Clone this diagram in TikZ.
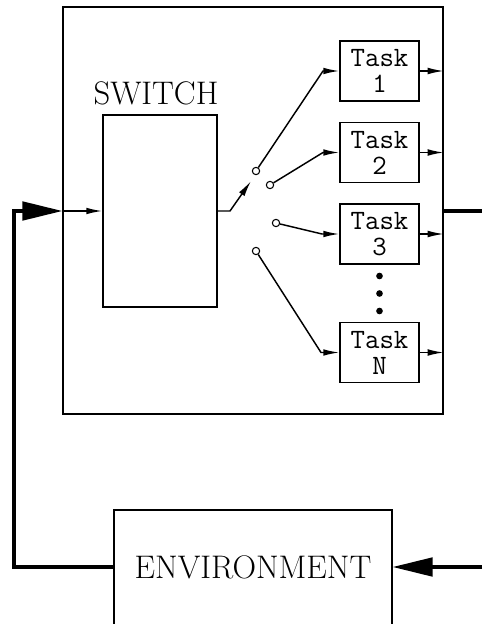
\documentclass[tikz,border=0pt]{standalone}
\usetikzlibrary{arrows.meta}
\begin{document}
\begin{tikzpicture}[x=0.75pt,y=-0.75pt,
  boxline/.style={line width=1.1pt},
  wire/.style={line width=1.1pt},
  thickwire/.style={line width=2.3pt},
  smallarrow/.style={-{Latex[length=12pt,width=5pt]}},
  bigarrow/.style={-{Triangle[length=30pt,width=14pt]}},
  taskbox/.style={draw,boxline,minimum width=59.25pt,minimum height=45pt,inner sep=0pt,
    align=center,font=\ttfamily\fontsize{21}{19.5}\selectfont},
  contact/.style={circle,draw,line width=0.8pt,fill=white,inner sep=0pt,minimum size=5.5pt},
  dotmark/.style={circle,fill=black,inner sep=0pt,minimum size=5pt},
  bigtext/.style={font=\fontsize{24.5}{28}\selectfont}]
\useasboundingbox (0,0) rectangle (482,624);
% outer box
\node[draw,boxline,minimum width=285pt,minimum height=305.25pt,inner sep=0pt] (outer) at (253,210.5) {};
% switch
\node[draw,boxline,minimum width=85.5pt,minimum height=144pt,inner sep=0pt] (switch) at (160,211) {};
\node[bigtext,inner sep=0pt] (swlabel) at (156,93) {SWITCH};
% tasks
\node[taskbox] (t1) at (379.5,71) {Task\\1};
\node[taskbox] (t2) at (379.5,152.5) {Task\\2};
\node[taskbox] (t3) at (379.5,234) {Task\\3};
\node[taskbox] (tN) at (379.5,352.5) {Task\\N};
% dots
\node[dotmark] (d1) at (379.5,276) {};
\node[dotmark] (d2) at (379.5,293.5) {};
\node[dotmark] (d3) at (379.5,311) {};
% environment
\node[draw,boxline,minimum width=208.5pt,minimum height=90pt,inner sep=0pt,text depth=4.5pt,bigtext] (env) at (253,570) {ENVIRONMENT};
% coordinates
\coordinate (inL) at (14,211);
\coordinate (outR) at (482,211);
\coordinate (fbR) at (482,567);
\coordinate (swbend) at (230,211);
\coordinate (swtip) at (251,181);
\coordinate (b1) at (323,71);
\coordinate (b2) at (323,152.5);
\coordinate (b3) at (322,234);
\coordinate (bN) at (321,352.5);
% switch output
\draw[wire,smallarrow] (switch.east) -- (swbend) -- (swtip);
% contacts and connectors
\node[contact] (c1) at (256,171) {};
\node[contact] (c2) at (270,185) {};
\node[contact] (c3) at (276,223) {};
\node[contact] (cN) at (256,251) {};
\draw[wire,smallarrow] (c1) -- (b1) -- (t1.west);
\draw[wire,smallarrow] (c2) -- (b2) -- (t2.west);
\draw[wire,smallarrow] (c3) -- (b3) -- (t3.west);
\draw[wire,smallarrow] (cN) -- (bN) -- (tN.west);
% task outputs
\draw[wire,smallarrow] (t1.east) -- (t1.east -| outer.east);
\draw[wire,smallarrow] (t2.east) -- (t2.east -| outer.east);
\draw[wire,smallarrow] (t3.east) -- (t3.east -| outer.east);
\draw[wire,smallarrow] (tN.east) -- (tN.east -| outer.east);
% input to switch
\draw[wire,smallarrow] (outer.west |- switch.west) -- (switch.west);
% system output
\draw[thickwire] (outer.east |- outR) -- (outR);
% feedback into environment
\draw[thickwire,bigarrow] (fbR) -- (env.east |- fbR);
% environment back to input
\draw[thickwire,bigarrow] (env.west |- fbR) -- (inL |- fbR) -- (inL) -- (outer.west |- inL);
\end{tikzpicture}
\end{document}
